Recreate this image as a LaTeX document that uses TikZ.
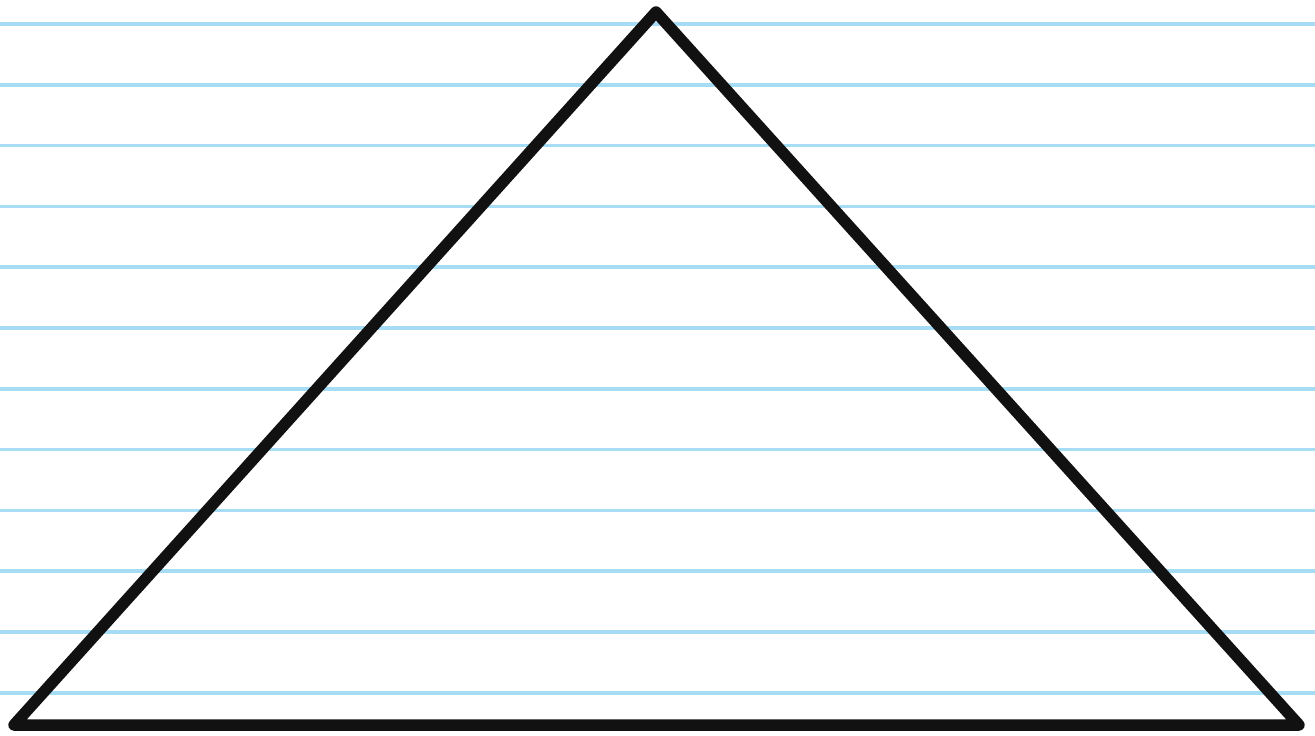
\documentclass[tikz,border=0pt]{standalone}
\definecolor{ruleblue}{HTML}{A6DCF4}
\definecolor{ink}{HTML}{111111}
\tikzset{
  rule/.style={draw=ruleblue, line width=3.5pt},
  tri/.style={draw=ink, line width=11.5pt, line join=round, line cap=round}
}
\begin{document}
\begin{tikzpicture}[x=1pt,y=-1pt]
\fill[white] (0,0) rectangle (1315,736);
\useasboundingbox (0,0) rectangle (1315,736);
\foreach \k in {0,...,11} {
  \draw[rule] (0,{24+60.8*\k}) -- (1315,{24+60.8*\k});
}
\coordinate (apex) at (656,12);
\coordinate (bl) at (14,725);
\coordinate (br) at (1299,725);
\draw[tri] (apex) -- (br) -- (bl) -- cycle;
\end{tikzpicture}
\end{document}
